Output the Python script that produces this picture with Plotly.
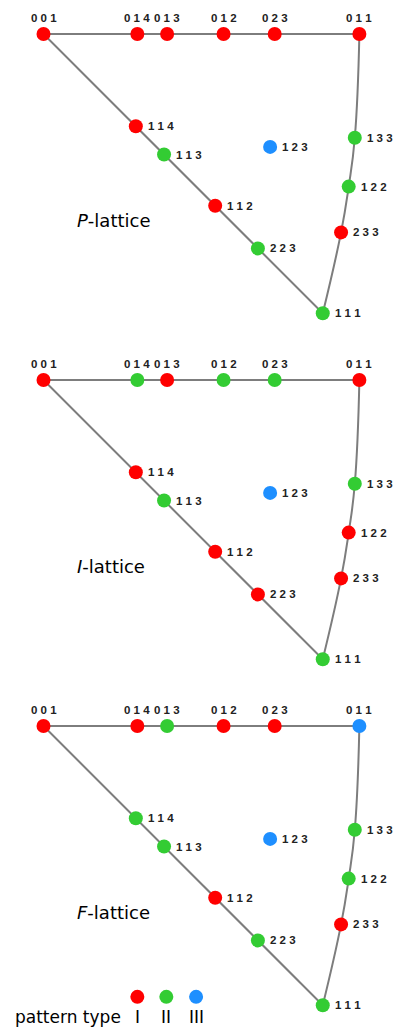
import plotly.graph_objects as go

# Crystal planes shown in the standard stereographic triangle
planes = ["001", "014", "013", "012", "023", "011",
          "114", "113", "112", "223", "111",
          "123", "133", "122", "233"]

# Stereographic coordinates of each plane pole (k along x, h along y)
proj_k = [0.000, 0.123, 0.162, 0.236, 0.303, 0.414,
          0.121, 0.158, 0.225, 0.281, 0.366,
          0.297, 0.408, 0.400, 0.390]
proj_h = [0.000, 0.000, 0.000, 0.000, 0.000, 0.000,
          0.121, 0.158, 0.225, 0.281, 0.366,
          0.148, 0.136, 0.200, 0.260]

# Diffraction pattern type of every plane for each Bravais lattice
types_P = ["I", "I", "I", "I", "I", "I",
           "I", "II", "I", "II", "II",
           "III", "II", "II", "I"]
types_I = ["I", "II", "I", "II", "II", "I",
           "I", "II", "I", "I", "II",
           "III", "II", "I", "I"]
types_F = ["I", "I", "II", "I", "I", "III",
           "II", "II", "I", "II", "II",
           "III", "II", "II", "I"]

lattices = ["P", "I", "F"]
lattice_types = [types_P, types_I, types_F]

pattern_types = ["I", "II", "III"]
type_colors = {"I": "#ff0000", "II": "#33cc33", "III": "#1e8fff"}

# Triangle edges: straight zones 001-011 and 001-111, curved zone 011-111
edge_top = ["001", "011"]
edge_diag = ["001", "111"]
edge_arc = ["011", "133", "122", "233", "111"]

W, H = 394, 1027
SCALE = 763.0          # pixels per projection unit
X0 = 43.5              # pixel column of the 001 pole
ROW0 = [34, 380, 726]  # pixel row of the 001 pole in each panel
BOUNDS = [(0, 346), (346, 692), (692, H)]

LINE_COLOR = "#7d7d7d"
LABEL_FONT = dict(family="Liberation Sans, Arial", size=11.5, color="#222222")
TITLE_FONT = dict(family="DejaVu Sans", size=18, color="#000000")
KEY_FONT = dict(family="DejaVu Sans", size=17, color="#000000")

idx = {p: i for i, p in enumerate(planes)}


def coords(names):
    return [proj_k[idx[n]] for n in names], [proj_h[idx[n]] for n in names]


fig = go.Figure()
annotations = []

for n, (lat, types) in enumerate(zip(lattices, lattice_types)):
    sfx = "" if n == 0 else str(n + 1)
    xa, ya = "x" + sfx, "y" + sfx

    for edge, shape in ((edge_top, "linear"), (edge_diag, "linear"), (edge_arc, "spline")):
        ex, ey = coords(edge)
        fig.add_trace(go.Scatter(
            x=ex, y=ey, mode="lines", xaxis=xa, yaxis=ya,
            line=dict(color=LINE_COLOR, width=2, shape=shape, smoothing=1.3),
            hoverinfo="skip", showlegend=False))

    fig.add_trace(go.Scatter(
        x=proj_k, y=proj_h, mode="markers", xaxis=xa, yaxis=ya,
        marker=dict(size=14, color=[type_colors[t] for t in types], line=dict(width=0)),
        text=planes, showlegend=False))

    for p, k, h in zip(planes, proj_k, proj_h):
        label = "<b>" + " ".join(p) + "</b>"
        if h == 0:
            annotations.append(dict(
                x=k, y=h, xref=xa, yref=ya, text=label, showarrow=False,
                xanchor="center", yanchor="middle", yshift=16.5, font=LABEL_FONT))
        else:
            annotations.append(dict(
                x=k, y=h, xref=xa, yref=ya, text=label, showarrow=False,
                xanchor="left", yanchor="middle", xshift=10, font=LABEL_FONT))

    annotations.append(dict(
        x=0.041, y=0.244, xref=xa, yref=ya, text=f"<i>{lat}</i>-lattice",
        showarrow=False, xanchor="left", yanchor="middle", font=TITLE_FONT))

    top, bottom = BOUNDS[n]
    y_top = (top - ROW0[n]) / SCALE
    y_bot = (bottom - ROW0[n]) / SCALE
    axis_style = dict(visible=False, showgrid=False, zeroline=False, fixedrange=True)
    fig.update_layout({
        "xaxis" + sfx: dict(range=[-X0 / SCALE, (W - X0) / SCALE], domain=[0, 1],
                            anchor=ya, **axis_style),
        "yaxis" + sfx: dict(range=[y_bot, y_top],
                            domain=[1 - bottom / H, 1 - top / H],
                            anchor=xa, **axis_style),
    })

# Pattern-type key under the last panel
key_x = [0.123, 0.161, 0.200]
key_y = 0.355
fig.add_trace(go.Scatter(
    x=key_x, y=[key_y] * 3, mode="markers", xaxis="x3", yaxis="y3",
    marker=dict(size=14, color=[type_colors[t] for t in pattern_types]),
    hoverinfo="skip", showlegend=False))
for t, kx in zip(pattern_types, key_x):
    annotations.append(dict(
        x=kx, y=0.381, xref="x3", yref="y3", text=t, showarrow=False,
        xanchor="center", yanchor="middle", font=KEY_FONT))
annotations.append(dict(
    x=13 / W, y=0.381, xref="paper", yref="y3", text="pattern type", showarrow=False,
    xanchor="left", yanchor="middle", font=KEY_FONT))

fig.update_layout(
    width=W, height=H,
    margin=dict(l=0, r=0, t=0, b=0),
    paper_bgcolor="white", plot_bgcolor="white",
    annotations=annotations,
    showlegend=False,
)

fig.write_html("out.html")
